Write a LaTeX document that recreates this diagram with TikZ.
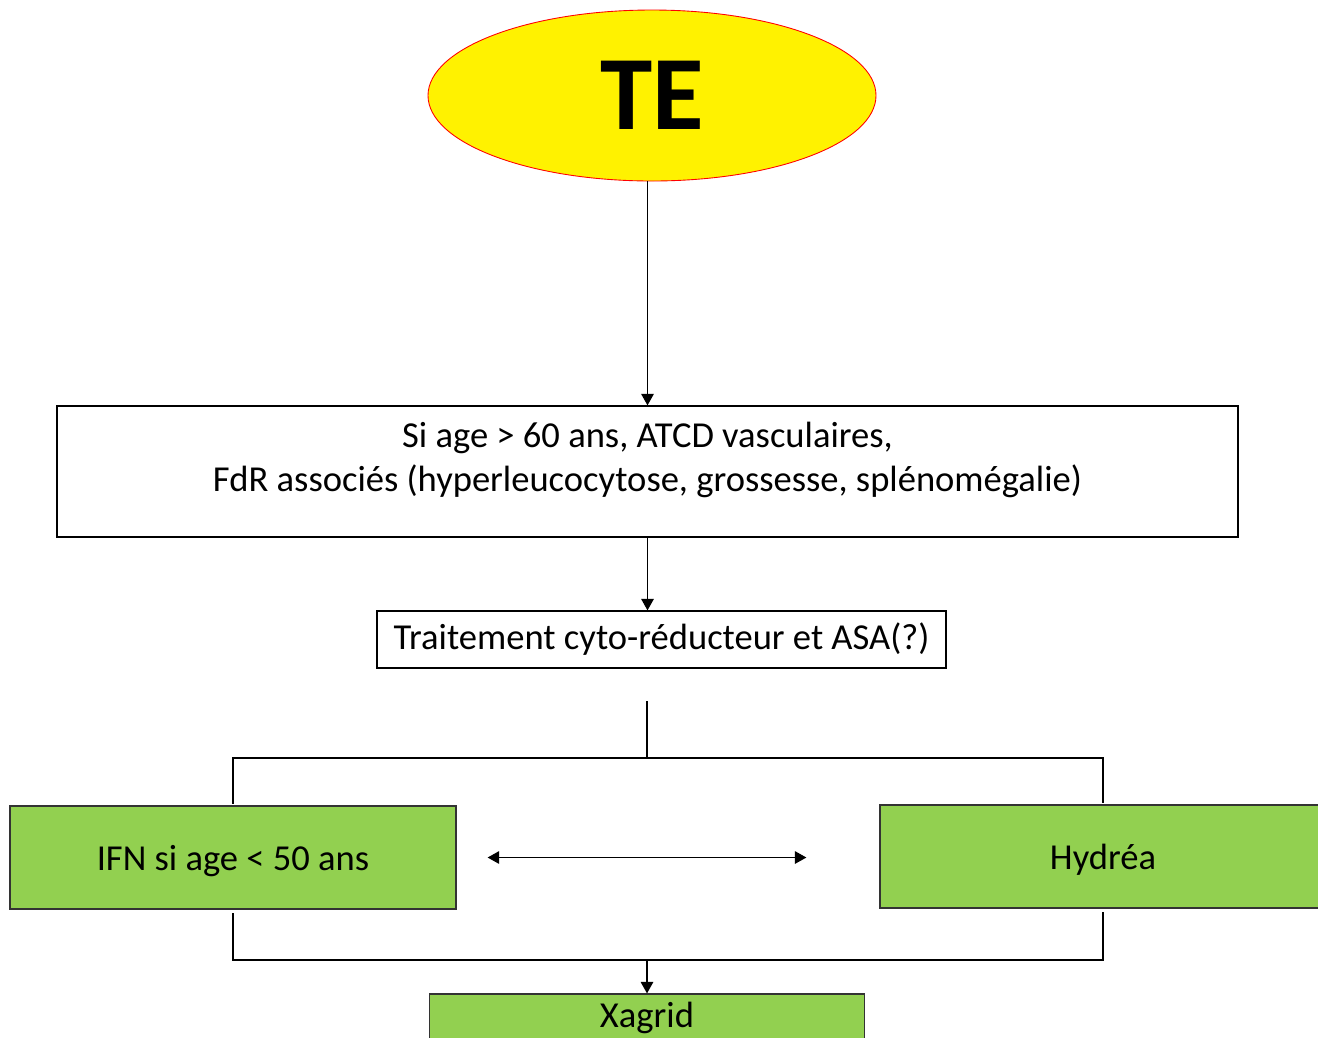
\documentclass[tikz,border=0pt]{standalone}
\usepackage{fontspec}
\setmainfont{Carlito}
\usepackage{xcolor}
\usetikzlibrary{shapes.geometric,arrows.meta,positioning}
\definecolor{officegreen}{HTML}{92D050}
\tikzset{
  plainbox/.style={draw=black,line width=0.7pt,inner sep=0pt,align=center,font=\fontsize{20.8}{24.5}\selectfont},
  greenbox/.style={plainbox,fill=officegreen,draw=black!80},
  choice/.style={greenbox,minimum width=8.92cm,minimum height=2.06cm,text height=0.75cm,text depth=0.25cm},
  tip/.tip={Triangle[width=0.25cm,length=0.23cm]},
  arr/.style={-tip,line width=0.8pt},
  link/.style={line width=0.8pt}
}

\begin{document}
\begin{tikzpicture}
          \useasboundingbox (0,0) rectangle (26.36,-20.74);
          \clip (0,0) rectangle (26.36,-20.74);
          % start of the chart
          \node[ellipse,fill=yellow,draw=red,line width=0.5pt,minimum width=8.96cm,minimum height=3.42cm,inner sep=0pt,
                font=\fontsize{60}{60}\selectfont\bfseries] (te) at (13.04,-1.91) {TE};
          \node[plainbox,minimum width=23.62cm,minimum height=2.62cm,text height=1.70cm,text depth=0.92cm] (risk) at (12.95,-9.43)
                {Si age > 60 ans, ATCD vasculaires,\\FdR associés (hyperleucocytose, grossesse, splénomégalie)};
          \node[plainbox,minimum width=11.38cm,minimum height=1.14cm] (cyto) at (13.23,-12.79)
                {Traitement cyto-réducteur et ASA(?)};
          % the two treatments
          \node[choice] (ifn) at (4.66,-17.15) {IFN si age < 50 ans};
          \node[choice] (hyd) at (22.06,-17.13) {Hydréa};
          \node[greenbox,minimum width=8.7cm,minimum height=0.96cm] (xag) at (12.94,-20.36) {Xagrid};
          \coordinate (split) at (12.94,-14.02);
          \coordinate (fork) at (12.94,-15.16);
          \coordinate (join) at (12.94,-19.2);

          \draw[arr] (risk.north |- te.south) -- (risk.north);
          \draw[arr] (risk.south) -- (risk.south |- cyto.north);
          \draw[link] (split) -- (fork);
          \draw[link] ([yshift=1pt]ifn.north) |- (fork) -| ([yshift=1pt]hyd.north);
          \draw[link] ([yshift=-2pt]ifn.south) |- (join) -| ([yshift=-2pt]hyd.south);
          \draw[arr] (join) -- (xag.north);
          \draw[tip-tip,line width=0.8pt] ([xshift=0.62cm]ifn.east) -- ([xshift=-1.46cm]hyd.west |- ifn.east);
        \end{tikzpicture}
\end{document}
